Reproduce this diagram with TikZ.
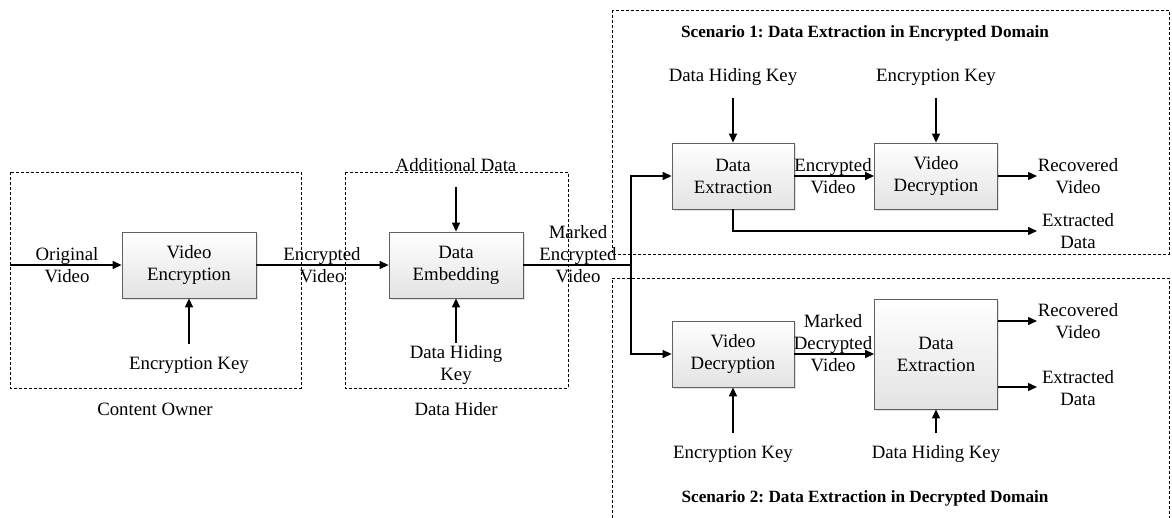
\documentclass[tikz,border=0pt]{standalone}
\usepackage{fontspec}
\setmainfont{Liberation Serif}
\usetikzlibrary{arrows.meta,shadows}
\frenchspacing

\begin{document}
\begin{tikzpicture}[x=0.5pt,y=-0.5pt,
  font=\fontsize{9.4}{11}\selectfont,
  block/.style={draw=gray!75!black,line width=0.4pt,top color=white,bottom color=gray!22,
    minimum width=67pt,minimum height=33pt,inner sep=0pt,align=center,
    drop shadow={shadow xshift=0.8pt,shadow yshift=-0.8pt,fill=gray!45}},
  txt/.style={align=center,inner sep=0pt},
  title/.style={font=\fontsize{8.6}{10}\selectfont\bfseries,inner sep=0pt},
  frame/.style={line width=0.35pt,dash pattern=on 1.5pt off 1pt},
  arr/.style={line width=0.65pt,-{Triangle[length=4.5pt,width=4pt]}},
  wire/.style={line width=0.65pt}]
\useasboundingbox (0,0) rectangle (1172,518);
% dashed groups
\draw[frame] (10,172) rectangle (301,388);
\draw[frame] (345,172) rectangle (568,388);
\draw[frame] (612,10) rectangle (1169,254);
\draw[frame] (612,518) |- (1169,278) -- (1169,518);
% processing blocks
\node[block] (enc) at (189,265) {Video\\Encryption};
\node[block] (emb) at (456,265) {Data\\Embedding};
\node[block,minimum width=61pt] (ext1) at (733,176) {Data\\Extraction};
\node[block,minimum width=61.5pt] (dec1) at (936,176) {Video\\Decryption};
\node[block,minimum width=61pt] (dec2) at (733,354) {Video\\Decryption};
\node[block,minimum width=61.5pt,minimum height=55pt] (ext2) at (936,354) {Data\\Extraction};
% labels
\node[txt] (orig) at (67,265) {Original\\Video};
\node[txt] (enckeyA) at (189,365) {Encryption Key};
\node[txt] (owner) at (155,409) {Content Owner};
\node[txt] (encvidA) at (322,265) {Encrypted\\Video};
\node[txt] (adddata) at (456,165) {Additional Data};
\node[txt] (hidkeyA) at (456,365) {Data Hiding\\Key};
\node[txt] (hider) at (456,409) {Data Hider};
\node[txt] (marked) at (578,254) {Marked\\Encrypted\\Video};
\node[title] (scA) at (865,33) {Scenario 1: Data Extraction in Encrypted Domain};
\node[txt] (hidkeyB) at (733,77) {Data Hiding Key};
\node[txt] (enckeyB) at (936,77) {Encryption Key};
\node[txt] (encvidB) at (833,176) {Encrypted\\Video};
\node[txt] (recB) at (1078,176) {Recovered\\Video};
\node[txt] (extdB) at (1078,231) {Extracted\\Data};
\node[txt] (mdv) at (833,343) {Marked\\Decrypted\\Video};
\node[txt] (recC) at (1078,321) {Recovered\\Video};
\node[txt] (extdC) at (1078,388) {Extracted\\Data};
\node[txt] (enckeyC) at (733,454) {Encryption Key};
\node[txt] (hidkeyC) at (936,454) {Data Hiding Key};
\node[title] (scB) at (865,498) {Scenario 2: Data Extraction in Decrypted Domain};
% free ends
\coordinate (start) at (10,265);
\coordinate (ekA) at (189,344);
\coordinate (adA) at (456,187);
\coordinate (hkA) at (456,343);
\coordinate (split) at (631,265);
\coordinate (hkB) at (733,98);
\coordinate (ekB) at (936,98);
\coordinate (recBend) at (1037,176);
\coordinate (extBend) at (1037,231);
\coordinate (recCend) at (1037,321);
\coordinate (extCend) at (1037,387);
\coordinate (ekC) at (733,433);
\coordinate (hkC) at (936,433);
% content owner and data hider
\draw[arr] (start) -- (enc);
\draw[arr] (ekA) -- (enc);
\draw[arr] (enc) -- (emb);
\draw[arr] (adA) -- (emb);
\draw[arr] (hkA) -- (emb);
\draw[wire] (emb) -- (split);
\draw[arr] (split) |- (ext1);
\draw[arr] (split) |- (dec2);
% scenario 1
\draw[arr] (hkB) -- (ext1);
\draw[arr] (ekB) -- (dec1);
\draw[arr] (ext1) -- (dec1);
\draw[arr] (dec1) -- (recBend);
\draw[arr] (ext1.south) |- (extBend);
% scenario 2
\draw[arr] (ekC) -- (dec2);
\draw[arr] (dec2) -- (ext2);
\draw[arr] (hkC) -- (ext2);
\draw[arr] (ext2.east |- recCend) -- (recCend);
\draw[arr] (ext2.east |- extCend) -- (extCend);
\end{tikzpicture}
\end{document}
